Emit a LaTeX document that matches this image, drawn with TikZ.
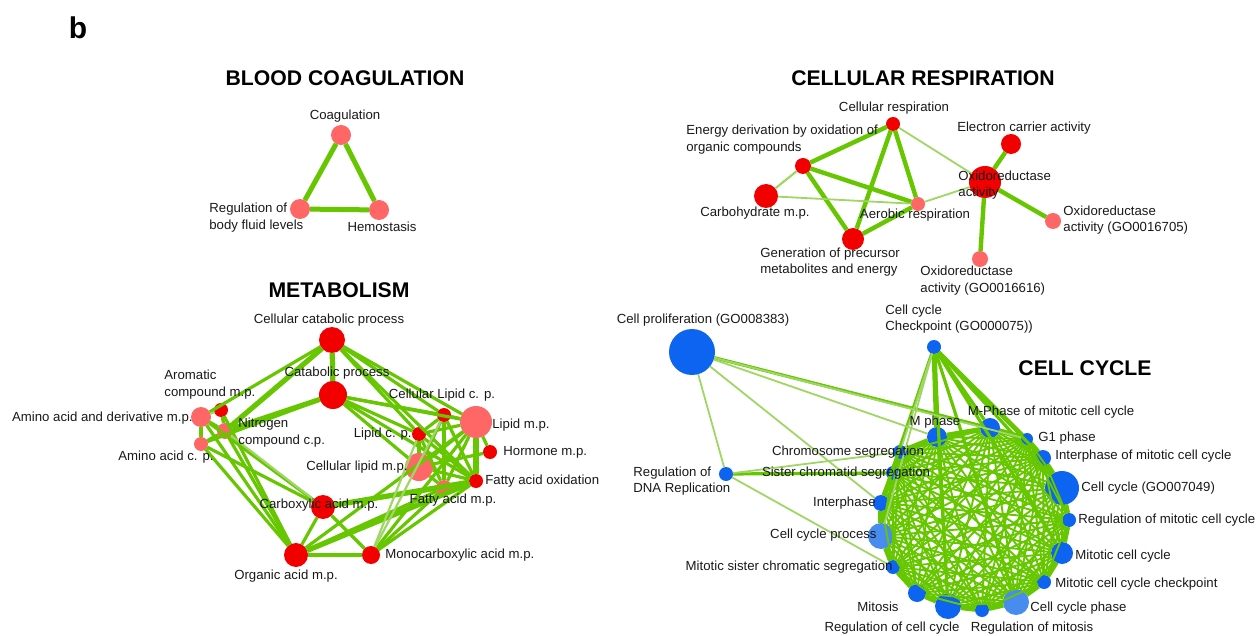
\documentclass[tikz,border=0pt]{standalone}
\usepackage{fontspec}
\setmainfont{Liberation Sans}
\usepackage{tikz}
\usetikzlibrary{positioning}
\definecolor{netred}{RGB}{242,0,0}
\definecolor{netpink}{RGB}{255,102,102}
\definecolor{netblue}{RGB}{12,100,240}
\definecolor{paleblue}{RGB}{72,140,240}
\definecolor{edgegreen}{RGB}{102,198,0}
\definecolor{edgelight}{RGB}{160,214,100}

\begin{document}
\begin{tikzpicture}[x=0.5pt, y=-0.5pt,
    term/.style={circle, inner sep=0pt, outer sep=0pt, draw=none},
    rednode/.style={term, fill=netred},
    pinknode/.style={term, fill=netpink},
    bluenode/.style={term, fill=netblue},
    palenode/.style={term, fill=paleblue},
    lbl/.style={inner sep=0pt, text=black!90, font=\fontsize{6.6}{8.3}\selectfont},
    title/.style={inner sep=0pt, font=\bfseries\fontsize{10.6}{12}\selectfont},
    heavy/.style={draw=edgegreen, line width=2.2pt},
    mid/.style={draw=edgegreen, line width=1.6pt},
    faint/.style={draw=edgelight, line width=0.9pt},
    ccedge/.style={draw=edgegreen, line width=0.95pt}]
  \useasboundingbox (0,0) rectangle (1258,636);

  \node[inner sep=0pt, font=\bfseries\fontsize{15}{16}\selectfont] (panel) at (78,28) {b};

  % Blood coagulation
  \node[title] (bloodT) at (345,78) {BLOOD COAGULATION};
  \node[pinknode, minimum size=10pt] (coag) at (341,135) {};
  \node[pinknode, minimum size=10pt] (regbody) at (300,209) {};
  \node[pinknode, minimum size=10pt] (hemo) at (379,210) {};
  \draw[heavy, line width=2.5pt] (coag) -- (regbody);
  \draw[heavy, line width=2.5pt] (coag) -- (hemo);
  \draw[heavy, line width=2.5pt] (regbody) -- (hemo);
  \node[lbl] (coagL) at (345,116) {Coagulation};
  \node[lbl, anchor=west, align=left] (regbodyL) at (209,217.5) {Regulation of\\body fluid levels};
  \node[lbl] (hemoL) at (382,227) {Hemostasis};

  % Cellular respiration
  \node[title] (respT) at (923,78) {CELLULAR RESPIRATION};
  \node[rednode, minimum size=7pt] (cellresp) at (893,124) {};
  \node[rednode, minimum size=8pt] (energy) at (803,166) {};
  \node[rednode, minimum size=12pt] (carbo) at (766,196) {};
  \node[pinknode, minimum size=7pt] (aerob) at (918,204) {};
  \node[rednode, minimum size=11pt] (precur) at (853,239) {};
  \node[rednode, minimum size=16pt] (oxido) at (985,182) {};
  \node[rednode, minimum size=10pt] (electron) at (1011,144) {};
  \node[pinknode, minimum size=8pt] (ox705) at (1053,221) {};
  \node[pinknode, minimum size=8pt] (ox616) at (980,259) {};
  \draw[heavy] (cellresp) -- (energy);
  \draw[heavy] (cellresp) -- (aerob);
  \draw[heavy] (cellresp) -- (precur);
  \draw[faint] (cellresp) -- (oxido);
  \draw[faint, line width=1.1pt] (energy) -- (carbo);
  \draw[heavy] (energy) -- (aerob);
  \draw[heavy] (energy) -- (precur);
  \draw[faint] (carbo) -- (aerob);
  \draw[heavy] (precur) -- (aerob);
  \draw[faint] (aerob) -- (oxido);
  \draw[heavy] (oxido) -- (electron);
  \draw[heavy] (oxido) -- (ox705);
  \draw[heavy] (oxido) -- (ox616);
  \node[lbl] (cellrespL) at (894,108) {Cellular respiration};
  \node[lbl, anchor=west, align=left] (energyL) at (686,139.5) {Energy derivation by oxidation of\\organic compounds};
  \node[lbl] (carboL) at (755,213) {Carbohydrate m.p.};
  \node[lbl] (aerobL) at (915,215) {Aerobic respiration};
  \node[lbl, anchor=west, align=left] (precurL) at (760,262) {Generation of precursor\\metabolites and energy};
  \node[lbl, anchor=west, align=left] (oxidoL) at (958,185) {Oxidoreductase\\activity};
  \node[lbl] (electronL) at (1024,128) {Electron carrier activity};
  \node[lbl, anchor=west, align=left] (ox705L) at (1063,220) {Oxidoreductase\\activity (GO0016705)};
  \node[lbl, anchor=west, align=left] (ox616L) at (920,280.5) {Oxidoreductase\\activity (GO0016616)};

  % Metabolism
  \node[title] (metaT) at (339,290) {METABOLISM};
  \node[rednode, minimum size=13pt] (cellcat) at (332,340) {};
  \node[rednode, minimum size=14pt] (catab) at (333,395) {};
  \node[pinknode, minimum size=10pt] (aminoder) at (201,417) {};
  \node[rednode, minimum size=7pt] (aromatic) at (221,410) {};
  \node[pinknode, minimum size=8pt] (nitrogen) at (225,431) {};
  \node[pinknode, minimum size=7pt] (aminocp) at (201,444) {};
  \node[rednode, minimum size=7pt] (celllipcp) at (444,415) {};
  \node[pinknode, minimum size=16pt] (lipmp) at (476,422) {};
  \node[rednode, minimum size=7pt] (lipcp) at (419,434) {};
  \node[rednode, minimum size=7pt] (hormone) at (490,452) {};
  \node[pinknode, minimum size=14pt] (celllipmp) at (419,467) {};
  \node[rednode, minimum size=7pt] (faox) at (476,481) {};
  \node[pinknode, minimum size=8pt] (famp) at (444,488) {};
  \node[rednode, minimum size=12pt] (carbox) at (323,507) {};
  \node[rednode, minimum size=12pt] (organic) at (296,555) {};
  \node[rednode, minimum size=9pt] (monocarb) at (371,555) {};
  \foreach \a/\b in {nitrogen/cellcat, nitrogen/catab, cellcat/catab, lipmp/faox,
                     carbox/faox, organic/faox}
    \draw[heavy, line width=2.6pt] (\a) -- (\b);
  \foreach \a/\b in {aminoder/cellcat, aminocp/catab, aminoder/aminocp, aminoder/nitrogen,
                     aromatic/nitrogen, nitrogen/aminocp, aminoder/organic, aminocp/organic,
                     nitrogen/organic, aromatic/organic, aminocp/carbox, aminoder/carbox,
                     cellcat/celllipcp, cellcat/lipmp, cellcat/lipcp, cellcat/faox,
                     catab/celllipcp, catab/lipmp, catab/lipcp, catab/faox, catab/celllipmp,
                     celllipcp/lipmp, celllipcp/lipcp, celllipcp/celllipmp, celllipcp/faox,
                     celllipcp/famp, lipcp/lipmp, lipcp/celllipmp, lipcp/faox, lipcp/famp,
                     lipmp/hormone, lipmp/celllipmp, lipmp/famp, hormone/celllipmp,
                     celllipmp/faox, celllipmp/famp, famp/faox, carbox/organic,
                     carbox/monocarb, carbox/famp, organic/monocarb, organic/famp,
                     organic/lipmp, monocarb/faox, monocarb/famp, monocarb/lipmp}
    \draw[mid] (\a) -- (\b);
  \foreach \a/\b in {aminoder/aromatic, nitrogen/carbox, monocarb/lipcp, monocarb/celllipcp}
    \draw[faint, line width=1.1pt] (\a) -- (\b);
  \node[lbl] (cellcatL) at (329,320) {Cellular catabolic process};
  \node[lbl] (catabL) at (337,373) {Catabolic process};
  \node[lbl, anchor=east] (aminoderL) at (193,418) {Amino acid and derivative m.p.};
  \node[lbl, anchor=west, align=left] (aromaticL) at (164,384.5) {Aromatic\\compound m.p.};
  \node[lbl, anchor=west, align=left] (nitrogenL) at (238,432.5) {Nitrogen\\compound c.p.};
  \node[lbl] (aminocpL) at (166,457) {Amino acid c. p.};
  \node[lbl] (celllipcpL) at (442,395) {Cellular Lipid c. p.};
  \node[lbl, anchor=west] (lipmpL) at (492,425) {Lipid m.p.};
  \node[lbl, anchor=east] (lipcpL) at (412,434) {Lipid c. p.};
  \node[lbl, anchor=west] (hormoneL) at (503,452) {Hormone m.p.};
  \node[lbl, anchor=east] (celllipmpL) at (408,467) {Cellular lipid m.p.};
  \node[lbl, anchor=west] (faoxL) at (485,481) {Fatty acid oxidation};
  \node[lbl] (fampL) at (453,500) {Fatty acid m.p.};
  \node[lbl] (carboxL) at (319,505) {Carboxylic acid m.p.};
  \node[lbl] (organicL) at (286,576) {Organic acid m.p.};
  \node[lbl, anchor=west] (monocarbL) at (385,555) {Monocarboxylic acid m.p.};

  % Cell cycle
  \node[title] (cycleT) at (1085,368) {CELL CYCLE};
  \node[bluenode, minimum size=23pt] (prolif) at (692,352) {};
  \node[bluenode, minimum size=7pt] (checkpt) at (934,347) {};
  \node[bluenode, minimum size=7pt] (regdna) at (726,474) {};
  \node[bluenode, minimum size=7pt] (chromseg) at (900,452) {};
  \node[bluenode, minimum size=7pt] (sischrom) at (893,473) {};
  \node[bluenode, minimum size=8pt] (interph) at (881,503) {};
  \node[palenode, minimum size=13pt] (ccproc) at (881,536) {};
  \node[bluenode, minimum size=7pt] (mitsis) at (893,567) {};
  \node[bluenode, minimum size=9pt] (mitosis) at (917,593) {};
  \node[bluenode, minimum size=13pt] (regcc) at (948,606) {};
  \node[bluenode, minimum size=7pt] (regmitosis) at (982,610) {};
  \node[palenode, minimum size=13pt] (ccphase) at (1016,602) {};
  \node[bluenode, minimum size=7pt] (mitchk) at (1044,582) {};
  \node[bluenode, minimum size=11pt] (mitcc) at (1062,553) {};
  \node[bluenode, minimum size=7pt] (regmit) at (1069,520) {};
  \node[bluenode, minimum size=17pt] (ccgo) at (1062,488) {};
  \node[bluenode, minimum size=8pt] (intmit) at (1043,458) {};
  \node[bluenode, minimum size=6pt] (gone) at (1027,439) {};
  \node[bluenode, minimum size=10pt] (mphasemit) at (990,428) {};
  \node[bluenode, minimum size=10pt] (mphase) at (937,437) {};
  \def\ringlist{chromseg,mphase,mphasemit,gone,intmit,ccgo,regmit,mitcc,mitchk,
    ccphase,regmitosis,regcc,mitosis,mitsis,ccproc,interph,sischrom}
  \foreach \a [count=\i] in \ringlist {
    \foreach \b [count=\j] in \ringlist {
      \ifnum\j>\i \draw[ccedge] (\a) -- (\b); \fi
    }
  }
  \foreach \a/\b in {chromseg/mphase, mphase/mphasemit, mphasemit/gone, gone/intmit,
                     intmit/ccgo, ccgo/regmit, regmit/mitcc, mitcc/mitchk, mitchk/ccphase,
                     ccphase/regmitosis, regmitosis/regcc, regcc/mitosis, mitosis/mitsis,
                     mitsis/ccproc, ccproc/interph, interph/sischrom, sischrom/chromseg,
                     checkpt/mphase}
    \draw[heavy, line width=2.6pt] (\a) -- (\b);
  \foreach \a/\b in {checkpt/mphasemit, checkpt/gone, checkpt/intmit, checkpt/ccgo,
                     checkpt/mitcc, checkpt/ccphase, checkpt/regcc, checkpt/interph,
                     prolif/mphasemit, regdna/sischrom}
    \draw[mid] (\a) -- (\b);
  \foreach \a/\b in {checkpt/chromseg, checkpt/ccproc, prolif/mphase, prolif/gone,
                     prolif/interph, prolif/regdna, regdna/chromseg, regdna/mitsis}
    \draw[faint] (\a) -- (\b);
  \node[lbl] (prolifL) at (703,320) {Cell proliferation (GO008383)};
  \node[lbl, anchor=west, align=left] (checkptL) at (885,319) {Cell cycle\\Checkpoint (GO000075))};
  \node[lbl, anchor=west, align=left] (regdnaL) at (633,481) {Regulation of\\DNA Replication};
  \node[lbl] (chromsegL) at (848,452) {Chromosome segregation};
  \node[lbl] (sischromL) at (846,473) {Sister chromatid segregation};
  \node[lbl, anchor=east] (interphL) at (876,503) {Interphase};
  \node[lbl, anchor=east] (ccprocL) at (877,535) {Cell cycle process};
  \node[lbl, anchor=east] (mitsisL) at (893,567) {Mitotic sister chromatic segregation};
  \node[lbl] (mitosisL) at (878,607) {Mitosis};
  \node[lbl] (regccL) at (892,628) {Regulation of cell cycle};
  \node[lbl] (regmitosisL) at (1032,628) {Regulation of mitosis};
  \node[lbl, anchor=west] (ccphaseL) at (1030,608) {Cell cycle phase};
  \node[lbl, anchor=west] (mitchkL) at (1055,584) {Mitotic cell cycle checkpoint};
  \node[lbl, anchor=west] (mitccL) at (1075,556) {Mitotic cell cycle};
  \node[lbl, anchor=west] (regmitL) at (1078,520) {Regulation of mitotic cell cycle};
  \node[lbl, anchor=west] (ccgoL) at (1081,488) {Cell cycle (GO007049)};
  \node[lbl, anchor=west] (intmitL) at (1055,456) {Interphase of mitotic cell cycle};
  \node[lbl, anchor=west] (goneL) at (1038,438) {G1 phase};
  \node[lbl] (mphasemitL) at (1051,412) {M-Phase of mitotic cell cycle};
  \node[lbl] (mphaseL) at (935,422) {M phase};
\end{tikzpicture}
\end{document}
